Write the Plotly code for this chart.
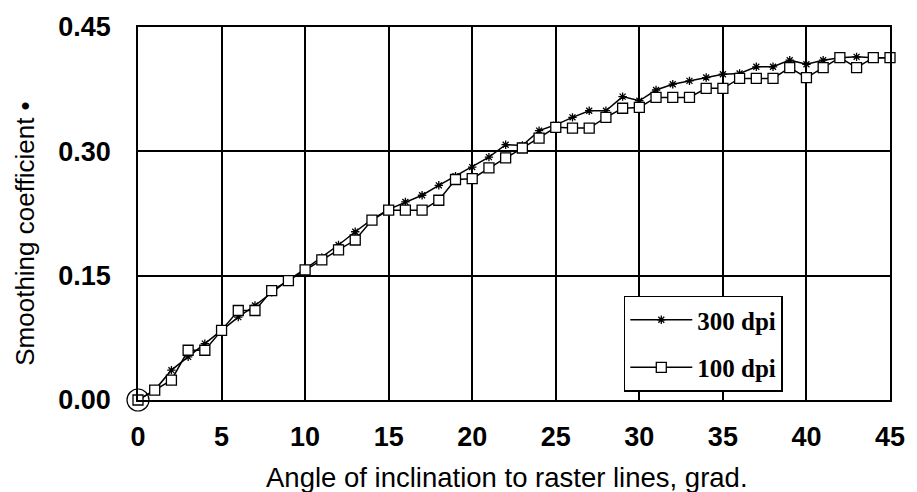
import plotly.graph_objects as go

# Angle of inclination, degrees
angles = list(range(0, 46))

# Smoothing coefficient measured at 300 dpi
k_300dpi = [0.000, 0.012, 0.036, 0.052, 0.068, 0.085, 0.100, 0.114, 0.130, 0.145,
            0.158, 0.172, 0.187, 0.203, 0.218, 0.230, 0.239, 0.247, 0.259, 0.270,
            0.281, 0.293, 0.308, 0.307, 0.325, 0.332, 0.341, 0.349, 0.349, 0.366,
            0.361, 0.374, 0.381, 0.385, 0.389, 0.393, 0.394, 0.402, 0.402, 0.410,
            0.405, 0.410, 0.413, 0.414, 0.413, 0.413]

# Smoothing coefficient measured at 100 dpi
k_100dpi = [0.000, 0.012, 0.024, 0.060, 0.060, 0.084, 0.108, 0.108, 0.132, 0.144,
            0.157, 0.169, 0.181, 0.193, 0.217, 0.229, 0.229, 0.229, 0.241, 0.266,
            0.267, 0.280, 0.292, 0.304, 0.316, 0.329, 0.328, 0.328, 0.341, 0.352,
            0.353, 0.365, 0.365, 0.365, 0.376, 0.376, 0.388, 0.388, 0.388, 0.401,
            0.389, 0.401, 0.413, 0.401, 0.413, 0.413]

x_ticks = [0, 5, 10, 15, 20, 25, 30, 35, 40, 45]
y_ticks = [0.00, 0.15, 0.30, 0.45]
y_tick_text = ["0.00", "0.15", "0.30", "0.45"]

x_title = "Angle of inclination to raster lines, grad."
y_title = "Smoothing coefficient •"

SANS = "Liberation Sans, Arial, sans-serif"
SERIF = "Liberation Serif, Times New Roman, serif"

fig = go.Figure()

fig.add_trace(go.Scatter(
    x=angles, y=k_300dpi, mode="lines+markers", name="300 dpi",
    legendgroup="a", cliponaxis=False,
    line=dict(color="black", width=1.5),
    marker=dict(symbol="asterisk-open", size=7, color="black",
                line=dict(color="black", width=1.3)),
))

fig.add_trace(go.Scatter(
    x=angles, y=k_100dpi, mode="lines+markers", name="100 dpi",
    legendgroup="b", cliponaxis=False,
    line=dict(color="black", width=1.5),
    marker=dict(symbol="square", size=10, color="white",
                line=dict(color="black", width=1.3)),
))

# Open ring around the common origin point
fig.add_trace(go.Scatter(
    x=[angles[0]], y=[k_100dpi[0]], mode="markers", showlegend=False,
    cliponaxis=False, hoverinfo="skip",
    marker=dict(symbol="circle-open", size=22, color="black",
                line=dict(color="black", width=1.2)),
))

axis_common = dict(
    showline=True, linecolor="black", linewidth=1.8, mirror=True,
    showgrid=True, gridcolor="black", gridwidth=1.6,
    zeroline=False, ticks="",
)

fig.update_layout(
    width=917, height=492,
    margin=dict(l=137.5, r=19, t=25, b=92),
    paper_bgcolor="white", plot_bgcolor="white",
    font=dict(family=SANS, color="black"),
    xaxis=dict(
        range=[0, 45], tickvals=x_ticks,
        tickfont=dict(size=27, family=SANS, weight="bold", color="black"),
        ticklabelstandoff=12,
        **axis_common,
    ),
    yaxis=dict(
        range=[0, 0.45], tickvals=y_ticks, ticktext=y_tick_text,
        tickfont=dict(size=27, family=SANS, weight="bold", color="black"),
        ticklabelstandoff=20,
        **axis_common,
    ),
    legend=dict(
        x=0.646, y=0.28, xanchor="left", yanchor="top",
        bgcolor="white", bordercolor="black", borderwidth=1.5,
        font=dict(family=SERIF, size=25, weight="bold", color="black"),
        tracegroupgap=12, itemwidth=62,
    ),
    showlegend=True,
    annotations=[
        dict(text=x_title, xref="paper", yref="paper", x=0.491, y=-0.208,
             xanchor="center", yanchor="middle", showarrow=False,
             font=dict(size=27.5, family=SANS, color="black")),
        dict(text=y_title, xref="paper", yref="paper", x=-0.1506, y=0.445,
             xanchor="center", yanchor="middle", showarrow=False,
             textangle=-90,
             font=dict(size=26, family=SANS, color="black")),
    ],
)

fig.write_html("out.html")
